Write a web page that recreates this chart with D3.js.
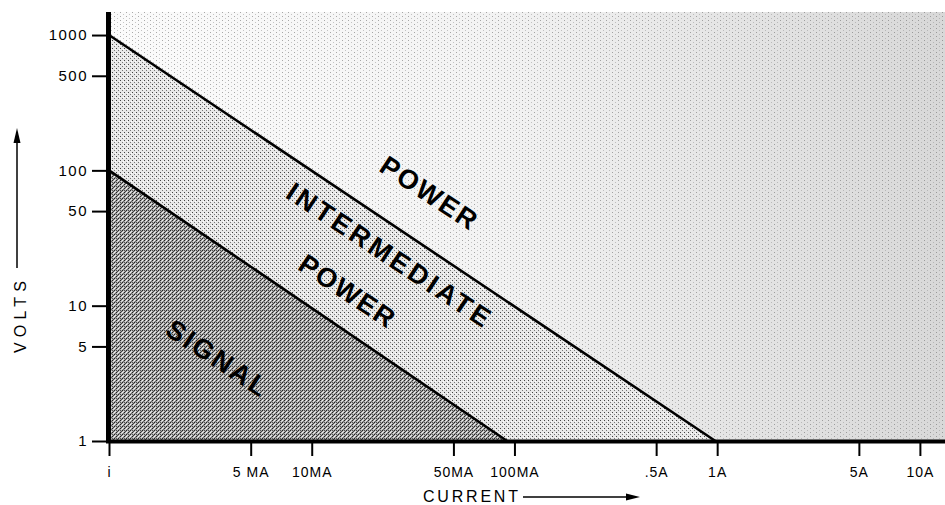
<!DOCTYPE html>
<html>
<head>
<meta charset="utf-8">
<script src="https://cdn.jsdelivr.net/npm/d3@7"></script>
<style>
  html, body { margin: 0; padding: 0; background: #fff; }
  svg { display: block; }
</style>
</head>
<body>
<svg id="chart" width="945" height="505"></svg>
<script>
// ---- data ----
const currentTicks = [0.001, 0.005, 0.01, 0.05, 0.1, 0.5, 1, 5, 10];          // amps
const currentTickLabels = ["i", "5 MA", "10MA", "50MA", "100MA", ".5A", "1A", "5A", "10A"];
const voltTicks = [1, 5, 10, 50, 100, 500, 1000];
const voltTickLabels = ["1", "5", "10", "50", "100", "500", "1000"];
// boundary lines [current (A), volts]
const signalBoundary = [[0.001, 100], [0.092, 1]];
const powerBoundary = [[0.001, 1000], [0.98, 1]];
const regionNames = ["POWER", "INTERMEDIATE", "POWER", "SIGNAL"];
const xDomain = [0.001, 13.3];
const yDomain = [1, 1480];

// ---- layout ----
const svg = d3.select("#chart");
const x = d3.scaleLog().domain(xDomain).range([109, 945]);
const y = d3.scaleLog().domain(yDomain).range([441, 12]);

const defs = svg.append("defs");
const grad = defs.append("linearGradient").attr("id", "powGrad")
  .attr("gradientUnits", "userSpaceOnUse").attr("x1", 110).attr("x2", 945).attr("y1", 0).attr("y2", 0);
grad.append("stop").attr("offset", "0%").attr("stop-color", "#fbfbfb");
grad.append("stop").attr("offset", "45%").attr("stop-color", "#f3f3f3");
grad.append("stop").attr("offset", "100%").attr("stop-color", "#d8d8d8");

const pPow = defs.append("pattern").attr("id", "powDots").attr("patternUnits", "userSpaceOnUse")
  .attr("width", 6).attr("height", 4);
pPow.append("rect").attr("x", 0).attr("y", 0).attr("width", 1).attr("height", 1).attr("fill", "#666");
pPow.append("rect").attr("x", 3).attr("y", 2).attr("width", 1).attr("height", 1).attr("fill", "#999");

const pInt = defs.append("pattern").attr("id", "intDots").attr("patternUnits", "userSpaceOnUse")
  .attr("width", 4).attr("height", 4);
pInt.append("rect").attr("width", 4).attr("height", 4).attr("fill", "#e8e8e8");
pInt.append("rect").attr("x", 0).attr("y", 0).attr("width", 1).attr("height", 1).attr("fill", "#444");
pInt.append("rect").attr("x", 2).attr("y", 2).attr("width", 1).attr("height", 1).attr("fill", "#777");
pInt.append("rect").attr("x", 3).attr("y", 1).attr("width", 1).attr("height", 1).attr("fill", "#fff");

const pSig = defs.append("pattern").attr("id", "sigDots").attr("patternUnits", "userSpaceOnUse")
  .attr("width", 4).attr("height", 4);
pSig.append("rect").attr("width", 4).attr("height", 4).attr("fill", "#a8a8a8");
[[0,0,"#222"],[2,2,"#222"],[2,0,"#f4f4f4"],[0,2,"#555"],[1,1,"#dcdcdc"],[3,3,"#e4e4e4"],[1,3,"#444"],[3,1,"#666"]]
  .forEach(([px, py, c]) => pSig.append("rect").attr("x", px).attr("y", py).attr("width", 1).attr("height", 1).attr("fill", c));

const line = d3.line().x(d => x(d[0])).y(d => y(d[1]));

// regions
const powerPoly = [[xDomain[0], yDomain[1]], [xDomain[1], yDomain[1]], [xDomain[1], 1], [xDomain[0], 1]];
svg.append("path").attr("d", line(powerPoly) + "Z").attr("fill", "url(#powGrad)");
svg.append("path").attr("d", line(powerPoly) + "Z").attr("fill", "url(#powDots)").attr("opacity", 0.55);

const intPoly = [[xDomain[0], powerBoundary[0][1]], powerBoundary[1], [xDomain[0], 1]];
svg.append("path").attr("d", line(intPoly) + "Z").attr("fill", "url(#intDots)");

const sigPoly = [[xDomain[0], signalBoundary[0][1]], signalBoundary[1], [xDomain[0], 1]];
svg.append("path").attr("d", line(sigPoly) + "Z").attr("fill", "url(#sigDots)");

// boundary lines
[signalBoundary, powerBoundary].forEach(b => {
  svg.append("path").attr("d", line(b)).attr("fill", "none").attr("stroke", "#000").attr("stroke-width", 2.6);
});

// axes
const font = "'Liberation Sans', Arial, sans-serif";
const yAxis = d3.axisLeft(y).tickValues(voltTicks).tickFormat((d, i) => voltTickLabels[i]).tickSize(16).tickPadding(4);
const gy = svg.append("g").attr("transform", "translate(108,0)").call(yAxis);
gy.select(".domain").remove();
gy.selectAll(".tick line").attr("stroke", "#000").attr("stroke-width", 2);
gy.selectAll(".tick text").attr("font-family", font).attr("font-size", 15).attr("letter-spacing", 1.5).attr("fill", "#000");

const xAxis = d3.axisBottom(x).tickValues(currentTicks).tickFormat((d, i) => currentTickLabels[i]).tickSize(14).tickPadding(11);
const gx = svg.append("g").attr("transform", "translate(0,442)").call(xAxis);
gx.select(".domain").remove();
gx.selectAll(".tick line").attr("stroke", "#000").attr("stroke-width", 2);
gx.selectAll(".tick text").attr("font-family", font).attr("font-size", 14).attr("letter-spacing", 1).attr("fill", "#000");

// thick axis lines
svg.append("line").attr("x1", 108.5).attr("x2", 108.5).attr("y1", 12).attr("y2", 443).attr("stroke", "#000").attr("stroke-width", 5);
svg.append("line").attr("x1", 106).attr("x2", 945).attr("y1", 441.5).attr("y2", 441.5).attr("stroke", "#000").attr("stroke-width", 4);

// axis titles with arrows
svg.append("text").attr("x", 423).attr("y", 502).attr("font-family", font).attr("font-size", 16)
  .attr("textLength", 95).attr("lengthAdjust", "spacing").text("CURRENT");
svg.append("line").attr("x1", 523).attr("x2", 630).attr("y1", 497).attr("y2", 497).attr("stroke", "#000").attr("stroke-width", 1.5);
svg.append("path").attr("d", "M640,497 L626,493.5 L626,500.5 Z").attr("fill", "#000");

svg.append("text").attr("transform", "translate(26,353) rotate(-90)").attr("font-family", font).attr("font-size", 16)
  .attr("textLength", 72).attr("lengthAdjust", "spacing").text("VOLTS");
svg.append("line").attr("x1", 17).attr("x2", 17).attr("y1", 268).attr("y2", 140).attr("stroke", "#000").attr("stroke-width", 1.5);
svg.append("path").attr("d", "M17,128 L13.5,143 L20.5,143 Z").attr("fill", "#000");

// region labels
const labelFont = "'Liberation Sans', Arial, sans-serif";
const labelSpots = [
  { c: 0.0377, v: 68, len: 110 },
  { c: 0.0239, v: 23.7, len: 238 },
  { c: 0.0149, v: 12.8, len: 109 },
  { c: 0.0034, v: 4.1, len: 115 }
];
regionNames.forEach((name, i) => {
  const s = labelSpots[i];
  svg.append("text")
    .attr("transform", `translate(${x(s.c)},${y(s.v)}) rotate(33.5)`)
    .attr("text-anchor", "middle").attr("dominant-baseline", "central")
    .attr("font-family", labelFont).attr("font-weight", "bold").attr("font-size", 27)
    .attr("textLength", s.len).attr("lengthAdjust", "spacing")
    .attr("fill", "#000").text(name);
});
</script>
</body>
</html>
